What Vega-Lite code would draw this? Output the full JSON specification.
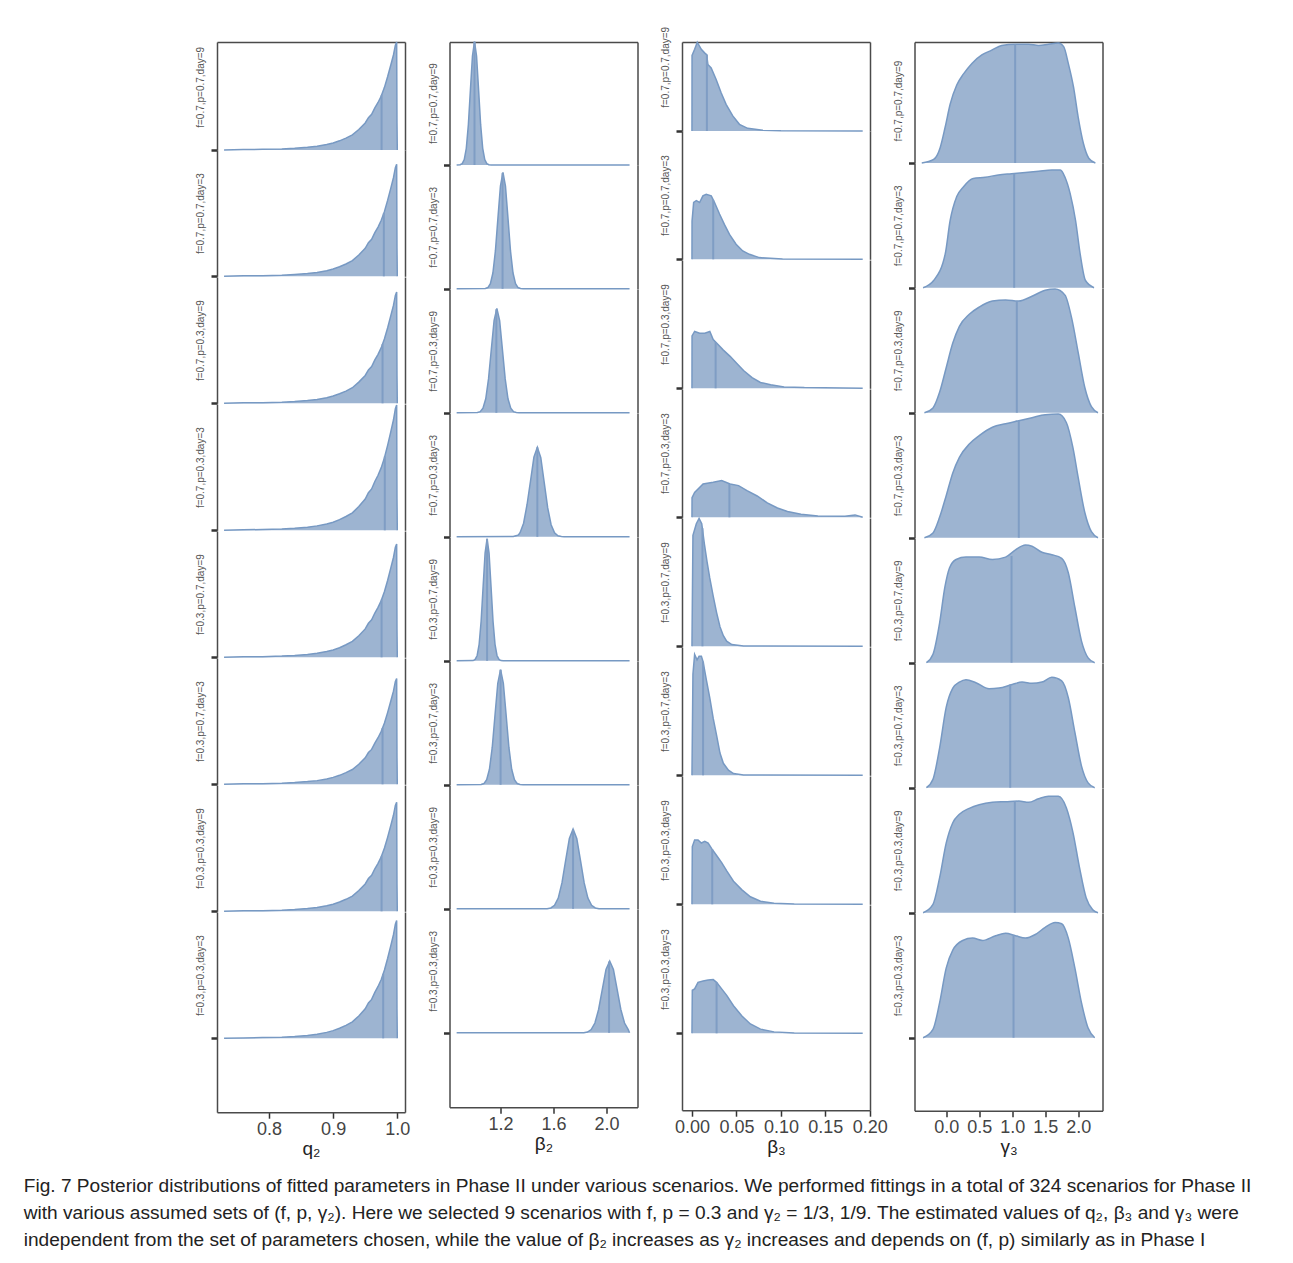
{
"$schema":"https://vega.github.io/schema/vega-lite/v6.json",
"padding":{"left":23,"top":26,"right":0,"bottom":0},
"background":"white",
"spacing":4.5,
"title":{"text":["Fig. 7 Posterior distributions of fitted parameters in Phase II under various scenarios. We performed fittings in a total of 324 scenarios for Phase II","with various assumed sets of (f, p, γ₂). Here we selected 9 scenarios with f, p = 0.3 and γ₂ = 1/3, 1/9. The estimated values of q₂, β₃ and γ₃ were","independent from the set of parameters chosen, while the value of β₂ increases as γ₂ increases and depends on (f, p) similarly as in Phase I"],"orient":"bottom","anchor":"start","frame":"bounds","font":"Liberation Sans","fontSize":19.1,"fontWeight":"normal","color":"#222","lineHeight":27,"offset":19,"dx":-172},
"config":{
"view":{"stroke":null},
"axis":{"grid":false,"domainColor":"#4a4a4a","domainWidth":1.5,"tickColor":"#333","labelFont":"Liberation Sans","titleFont":"Liberation Sans"},
"axisLeft":{"labels":false,"tickSize":6,"tickWidth":2.5,"titleFontSize":10,"titleFontWeight":"normal","titleColor":"#555","titlePadding":4},
"axisRight":{"labels":false,"ticks":true,"tickSize":18,"tickOpacity":0,"tickCount":2},
"axisTop":{"labels":false,"ticks":false},
"axisBottom":{"labelFontSize":18,"labelColor":"#444","labelOverlap":false,"labelFlush":false,"tickSize":6,"tickWidth":1.5,"labelPadding":2,"titleFontSize":19,"titleFontWeight":"normal","titleColor":"#222","titlePadding":1}
},
"hconcat":[
{"vconcat":[
{"width":188,"height":108,"encoding":{"x":{"field":"x","type":"quantitative","scale":{"domain":[0.719,1.012],"nice":false,"zero":false},"axis":{"orient":"top","title":null}},"y2":{"datum":0}},"layer":[{"data":{"name":"q2"},"transform":[{"filter":"datum.s==1"}],"mark":{"type":"area","color":"#9db4d1","opacity":1,"interpolate":"linear","line":{"color":"#7799c3","strokeWidth":1.5}},"encoding":{"y":{"field":"d","type":"quantitative","scale":{"domain":[0,1],"nice":false,"zero":false},"axis":{"orient":"left","values":[0],"title":"f=0.7,p=0.7,day=9","titleY":44.85}}}},{"data":{"name":"med"},"transform":[{"filter":"datum.p=='q2'&&datum.s==1"}],"mark":{"type":"rule","color":"#7f9dc4","strokeWidth":2},"encoding":{"y":{"field":"d","type":"quantitative","scale":{"domain":[0,1],"nice":false,"zero":false},"axis":{"orient":"right","title":null}}}}],"resolve":{"axis":{"y":"independent"}}},
{"width":188,"height":126.3,"encoding":{"x":{"field":"x","type":"quantitative","scale":{"domain":[0.719,1.012],"nice":false,"zero":false},"axis":null},"y2":{"datum":0}},"layer":[{"data":{"name":"q2"},"transform":[{"filter":"datum.s==2"}],"mark":{"type":"area","color":"#9db4d1","opacity":1,"interpolate":"linear","line":{"color":"#7799c3","strokeWidth":1.5}},"encoding":{"y":{"field":"d","type":"quantitative","scale":{"domain":[0,1.1694],"nice":false,"zero":false},"axis":{"orient":"left","values":[0],"title":"f=0.7,p=0.7,day=3"}}}},{"data":{"name":"med"},"transform":[{"filter":"datum.p=='q2'&&datum.s==2"}],"mark":{"type":"rule","color":"#7f9dc4","strokeWidth":2},"encoding":{"y":{"field":"d","type":"quantitative","scale":{"domain":[0,1.1694],"nice":false,"zero":false},"axis":{"orient":"right","title":null}}}}],"resolve":{"axis":{"y":"independent"}}},
{"width":188,"height":126.3,"encoding":{"x":{"field":"x","type":"quantitative","scale":{"domain":[0.719,1.012],"nice":false,"zero":false},"axis":null},"y2":{"datum":0}},"layer":[{"data":{"name":"q2"},"transform":[{"filter":"datum.s==3"}],"mark":{"type":"area","color":"#9db4d1","opacity":1,"interpolate":"linear","line":{"color":"#7799c3","strokeWidth":1.5}},"encoding":{"y":{"field":"d","type":"quantitative","scale":{"domain":[0,1.1694],"nice":false,"zero":false},"axis":{"orient":"left","values":[0],"title":"f=0.7,p=0.3,day=9"}}}},{"data":{"name":"med"},"transform":[{"filter":"datum.p=='q2'&&datum.s==3"}],"mark":{"type":"rule","color":"#7f9dc4","strokeWidth":2},"encoding":{"y":{"field":"d","type":"quantitative","scale":{"domain":[0,1.1694],"nice":false,"zero":false},"axis":{"orient":"right","title":null}}}}],"resolve":{"axis":{"y":"independent"}}},
{"width":188,"height":126.3,"encoding":{"x":{"field":"x","type":"quantitative","scale":{"domain":[0.719,1.012],"nice":false,"zero":false},"axis":null},"y2":{"datum":0}},"layer":[{"data":{"name":"q2"},"transform":[{"filter":"datum.s==4"}],"mark":{"type":"area","color":"#9db4d1","opacity":1,"interpolate":"linear","line":{"color":"#7799c3","strokeWidth":1.5}},"encoding":{"y":{"field":"d","type":"quantitative","scale":{"domain":[0,1.1694],"nice":false,"zero":false},"axis":{"orient":"left","values":[0],"title":"f=0.7,p=0.3,day=3"}}}},{"data":{"name":"med"},"transform":[{"filter":"datum.p=='q2'&&datum.s==4"}],"mark":{"type":"rule","color":"#7f9dc4","strokeWidth":2},"encoding":{"y":{"field":"d","type":"quantitative","scale":{"domain":[0,1.1694],"nice":false,"zero":false},"axis":{"orient":"right","title":null}}}}],"resolve":{"axis":{"y":"independent"}}},
{"width":188,"height":126.3,"encoding":{"x":{"field":"x","type":"quantitative","scale":{"domain":[0.719,1.012],"nice":false,"zero":false},"axis":null},"y2":{"datum":0}},"layer":[{"data":{"name":"q2"},"transform":[{"filter":"datum.s==5"}],"mark":{"type":"area","color":"#9db4d1","opacity":1,"interpolate":"linear","line":{"color":"#7799c3","strokeWidth":1.5}},"encoding":{"y":{"field":"d","type":"quantitative","scale":{"domain":[0,1.1694],"nice":false,"zero":false},"axis":{"orient":"left","values":[0],"title":"f=0.3,p=0.7,day=9"}}}},{"data":{"name":"med"},"transform":[{"filter":"datum.p=='q2'&&datum.s==5"}],"mark":{"type":"rule","color":"#7f9dc4","strokeWidth":2},"encoding":{"y":{"field":"d","type":"quantitative","scale":{"domain":[0,1.1694],"nice":false,"zero":false},"axis":{"orient":"right","title":null}}}}],"resolve":{"axis":{"y":"independent"}}},
{"width":188,"height":126.3,"encoding":{"x":{"field":"x","type":"quantitative","scale":{"domain":[0.719,1.012],"nice":false,"zero":false},"axis":null},"y2":{"datum":0}},"layer":[{"data":{"name":"q2"},"transform":[{"filter":"datum.s==6"}],"mark":{"type":"area","color":"#9db4d1","opacity":1,"interpolate":"linear","line":{"color":"#7799c3","strokeWidth":1.5}},"encoding":{"y":{"field":"d","type":"quantitative","scale":{"domain":[0,1.1694],"nice":false,"zero":false},"axis":{"orient":"left","values":[0],"title":"f=0.3,p=0.7,day=3"}}}},{"data":{"name":"med"},"transform":[{"filter":"datum.p=='q2'&&datum.s==6"}],"mark":{"type":"rule","color":"#7f9dc4","strokeWidth":2},"encoding":{"y":{"field":"d","type":"quantitative","scale":{"domain":[0,1.1694],"nice":false,"zero":false},"axis":{"orient":"right","title":null}}}}],"resolve":{"axis":{"y":"independent"}}},
{"width":188,"height":126.3,"encoding":{"x":{"field":"x","type":"quantitative","scale":{"domain":[0.719,1.012],"nice":false,"zero":false},"axis":null},"y2":{"datum":0}},"layer":[{"data":{"name":"q2"},"transform":[{"filter":"datum.s==7"}],"mark":{"type":"area","color":"#9db4d1","opacity":1,"interpolate":"linear","line":{"color":"#7799c3","strokeWidth":1.5}},"encoding":{"y":{"field":"d","type":"quantitative","scale":{"domain":[0,1.1694],"nice":false,"zero":false},"axis":{"orient":"left","values":[0],"title":"f=0.3,p=0.3,day=9"}}}},{"data":{"name":"med"},"transform":[{"filter":"datum.p=='q2'&&datum.s==7"}],"mark":{"type":"rule","color":"#7f9dc4","strokeWidth":2},"encoding":{"y":{"field":"d","type":"quantitative","scale":{"domain":[0,1.1694],"nice":false,"zero":false},"axis":{"orient":"right","title":null}}}}],"resolve":{"axis":{"y":"independent"}}},
{"width":188,"height":200.2,"encoding":{"x":{"field":"x","type":"quantitative","scale":{"domain":[0.719,1.012],"nice":false,"zero":false},"axis":{"orient":"bottom","values":[0.8,0.9,1.0],"format":".1f","title":"q₂"}},"y2":{"datum":0}},"layer":[{"data":{"name":"q2"},"transform":[{"filter":"datum.s==8"}],"mark":{"type":"area","color":"#9db4d1","opacity":1,"interpolate":"linear","line":{"color":"#7799c3","strokeWidth":1.5}},"encoding":{"y":{"field":"d","type":"quantitative","scale":{"domain":[-0.684,1.1694],"nice":false,"zero":false},"axis":{"orient":"left","values":[0],"title":"f=0.3,p=0.3,day=3","titleY":63.15}}}},{"data":{"name":"med"},"transform":[{"filter":"datum.p=='q2'&&datum.s==8"}],"mark":{"type":"rule","color":"#7f9dc4","strokeWidth":2},"encoding":{"y":{"field":"d","type":"quantitative","scale":{"domain":[-0.684,1.1694],"nice":false,"zero":false},"axis":{"orient":"right","title":null}}}}],"resolve":{"axis":{"y":"independent"}}}
],"spacing":0,"bounds":"flush"},
{"vconcat":[
{"width":188,"height":123,"encoding":{"x":{"field":"x","type":"quantitative","scale":{"domain":[0.814,2.235],"nice":false,"zero":false},"axis":{"orient":"top","title":null}},"y2":{"datum":0}},"layer":[{"data":{"name":"b2"},"transform":[{"filter":"datum.s==1"}],"mark":{"type":"area","color":"#9db4d1","opacity":1,"interpolate":"linear","line":{"color":"#7799c3","strokeWidth":1.5}},"encoding":{"y":{"field":"d","type":"quantitative","scale":{"domain":[0,0.9976],"nice":false,"zero":false},"axis":{"orient":"left","values":[0],"title":"f=0.7,p=0.7,day=9","titleY":61.1}}}},{"data":{"name":"med"},"transform":[{"filter":"datum.p=='b2'&&datum.s==1"}],"mark":{"type":"rule","color":"#7f9dc4","strokeWidth":2},"encoding":{"y":{"field":"d","type":"quantitative","scale":{"domain":[0,0.9976],"nice":false,"zero":false},"axis":{"orient":"right","title":null}}}}],"resolve":{"axis":{"y":"independent"}}},
{"width":188,"height":123.8,"encoding":{"x":{"field":"x","type":"quantitative","scale":{"domain":[0.814,2.235],"nice":false,"zero":false},"axis":null},"y2":{"datum":0}},"layer":[{"data":{"name":"b2"},"transform":[{"filter":"datum.s==2"}],"mark":{"type":"area","color":"#9db4d1","opacity":1,"interpolate":"linear","line":{"color":"#7799c3","strokeWidth":1.5}},"encoding":{"y":{"field":"d","type":"quantitative","scale":{"domain":[0,1.0041],"nice":false,"zero":false},"axis":{"orient":"left","values":[0],"title":"f=0.7,p=0.7,day=3"}}}},{"data":{"name":"med"},"transform":[{"filter":"datum.p=='b2'&&datum.s==2"}],"mark":{"type":"rule","color":"#7f9dc4","strokeWidth":2},"encoding":{"y":{"field":"d","type":"quantitative","scale":{"domain":[0,1.0041],"nice":false,"zero":false},"axis":{"orient":"right","title":null}}}}],"resolve":{"axis":{"y":"independent"}}},
{"width":188,"height":123.8,"encoding":{"x":{"field":"x","type":"quantitative","scale":{"domain":[0.814,2.235],"nice":false,"zero":false},"axis":null},"y2":{"datum":0}},"layer":[{"data":{"name":"b2"},"transform":[{"filter":"datum.s==3"}],"mark":{"type":"area","color":"#9db4d1","opacity":1,"interpolate":"linear","line":{"color":"#7799c3","strokeWidth":1.5}},"encoding":{"y":{"field":"d","type":"quantitative","scale":{"domain":[0,1.0041],"nice":false,"zero":false},"axis":{"orient":"left","values":[0],"title":"f=0.7,p=0.3,day=9"}}}},{"data":{"name":"med"},"transform":[{"filter":"datum.p=='b2'&&datum.s==3"}],"mark":{"type":"rule","color":"#7f9dc4","strokeWidth":2},"encoding":{"y":{"field":"d","type":"quantitative","scale":{"domain":[0,1.0041],"nice":false,"zero":false},"axis":{"orient":"right","title":null}}}}],"resolve":{"axis":{"y":"independent"}}},
{"width":188,"height":123.8,"encoding":{"x":{"field":"x","type":"quantitative","scale":{"domain":[0.814,2.235],"nice":false,"zero":false},"axis":null},"y2":{"datum":0}},"layer":[{"data":{"name":"b2"},"transform":[{"filter":"datum.s==4"}],"mark":{"type":"area","color":"#9db4d1","opacity":1,"interpolate":"linear","line":{"color":"#7799c3","strokeWidth":1.5}},"encoding":{"y":{"field":"d","type":"quantitative","scale":{"domain":[0,1.0041],"nice":false,"zero":false},"axis":{"orient":"left","values":[0],"title":"f=0.7,p=0.3,day=3"}}}},{"data":{"name":"med"},"transform":[{"filter":"datum.p=='b2'&&datum.s==4"}],"mark":{"type":"rule","color":"#7f9dc4","strokeWidth":2},"encoding":{"y":{"field":"d","type":"quantitative","scale":{"domain":[0,1.0041],"nice":false,"zero":false},"axis":{"orient":"right","title":null}}}}],"resolve":{"axis":{"y":"independent"}}},
{"width":188,"height":123.8,"encoding":{"x":{"field":"x","type":"quantitative","scale":{"domain":[0.814,2.235],"nice":false,"zero":false},"axis":null},"y2":{"datum":0}},"layer":[{"data":{"name":"b2"},"transform":[{"filter":"datum.s==5"}],"mark":{"type":"area","color":"#9db4d1","opacity":1,"interpolate":"linear","line":{"color":"#7799c3","strokeWidth":1.5}},"encoding":{"y":{"field":"d","type":"quantitative","scale":{"domain":[0,1.0041],"nice":false,"zero":false},"axis":{"orient":"left","values":[0],"title":"f=0.3,p=0.7,day=9"}}}},{"data":{"name":"med"},"transform":[{"filter":"datum.p=='b2'&&datum.s==5"}],"mark":{"type":"rule","color":"#7f9dc4","strokeWidth":2},"encoding":{"y":{"field":"d","type":"quantitative","scale":{"domain":[0,1.0041],"nice":false,"zero":false},"axis":{"orient":"right","title":null}}}}],"resolve":{"axis":{"y":"independent"}}},
{"width":188,"height":123.8,"encoding":{"x":{"field":"x","type":"quantitative","scale":{"domain":[0.814,2.235],"nice":false,"zero":false},"axis":null},"y2":{"datum":0}},"layer":[{"data":{"name":"b2"},"transform":[{"filter":"datum.s==6"}],"mark":{"type":"area","color":"#9db4d1","opacity":1,"interpolate":"linear","line":{"color":"#7799c3","strokeWidth":1.5}},"encoding":{"y":{"field":"d","type":"quantitative","scale":{"domain":[0,1.0041],"nice":false,"zero":false},"axis":{"orient":"left","values":[0],"title":"f=0.3,p=0.7,day=3"}}}},{"data":{"name":"med"},"transform":[{"filter":"datum.p=='b2'&&datum.s==6"}],"mark":{"type":"rule","color":"#7f9dc4","strokeWidth":2},"encoding":{"y":{"field":"d","type":"quantitative","scale":{"domain":[0,1.0041],"nice":false,"zero":false},"axis":{"orient":"right","title":null}}}}],"resolve":{"axis":{"y":"independent"}}},
{"width":188,"height":123.8,"encoding":{"x":{"field":"x","type":"quantitative","scale":{"domain":[0.814,2.235],"nice":false,"zero":false},"axis":null},"y2":{"datum":0}},"layer":[{"data":{"name":"b2"},"transform":[{"filter":"datum.s==7"}],"mark":{"type":"area","color":"#9db4d1","opacity":1,"interpolate":"linear","line":{"color":"#7799c3","strokeWidth":1.5}},"encoding":{"y":{"field":"d","type":"quantitative","scale":{"domain":[0,1.0041],"nice":false,"zero":false},"axis":{"orient":"left","values":[0],"title":"f=0.3,p=0.3,day=9"}}}},{"data":{"name":"med"},"transform":[{"filter":"datum.p=='b2'&&datum.s==7"}],"mark":{"type":"rule","color":"#7f9dc4","strokeWidth":2},"encoding":{"y":{"field":"d","type":"quantitative","scale":{"domain":[0,1.0041],"nice":false,"zero":false},"axis":{"orient":"right","title":null}}}}],"resolve":{"axis":{"y":"independent"}}},
{"width":188,"height":198.2,"encoding":{"x":{"field":"x","type":"quantitative","scale":{"domain":[0.814,2.235],"nice":false,"zero":false},"axis":{"orient":"bottom","values":[1.2,1.6,2.0],"format":".1f","title":"β₂"}},"y2":{"datum":0}},"layer":[{"data":{"name":"b2"},"transform":[{"filter":"datum.s==8"}],"mark":{"type":"area","color":"#9db4d1","opacity":1,"interpolate":"linear","line":{"color":"#7799c3","strokeWidth":1.5}},"encoding":{"y":{"field":"d","type":"quantitative","scale":{"domain":[-0.6034,1.0041],"nice":false,"zero":false},"axis":{"orient":"left","values":[0],"title":"f=0.3,p=0.3,day=3","titleY":61.9}}}},{"data":{"name":"med"},"transform":[{"filter":"datum.p=='b2'&&datum.s==8"}],"mark":{"type":"rule","color":"#7f9dc4","strokeWidth":2},"encoding":{"y":{"field":"d","type":"quantitative","scale":{"domain":[-0.6034,1.0041],"nice":false,"zero":false},"axis":{"orient":"right","title":null}}}}],"resolve":{"axis":{"y":"independent"}}}
],"spacing":0,"bounds":"flush"},
{"vconcat":[
{"width":188,"height":89,"encoding":{"x":{"field":"x","type":"quantitative","scale":{"domain":[-0.0112,0.2002],"nice":false,"zero":false},"axis":{"orient":"top","title":null}},"y2":{"datum":0}},"layer":[{"data":{"name":"b3"},"transform":[{"filter":"datum.s==1"}],"mark":{"type":"area","color":"#9db4d1","opacity":1,"interpolate":"linear","line":{"color":"#7799c3","strokeWidth":1.5}},"encoding":{"y":{"field":"d","type":"quantitative","scale":{"domain":[0,1.0023],"nice":false,"zero":false},"axis":{"orient":"left","values":[0],"title":"f=0.7,p=0.7,day=9","titleY":24.85}}}},{"data":{"name":"med"},"transform":[{"filter":"datum.p=='b3'&&datum.s==1"}],"mark":{"type":"rule","color":"#7f9dc4","strokeWidth":2},"encoding":{"y":{"field":"d","type":"quantitative","scale":{"domain":[0,1.0023],"nice":false,"zero":false},"axis":{"orient":"right","title":null}}}}],"resolve":{"axis":{"y":"independent"}}},
{"width":188,"height":128.3,"encoding":{"x":{"field":"x","type":"quantitative","scale":{"domain":[-0.0112,0.2002],"nice":false,"zero":false},"axis":null},"y2":{"datum":0}},"layer":[{"data":{"name":"b3"},"transform":[{"filter":"datum.s==2"}],"mark":{"type":"area","color":"#9db4d1","opacity":1,"interpolate":"linear","line":{"color":"#7799c3","strokeWidth":1.5}},"encoding":{"y":{"field":"d","type":"quantitative","scale":{"domain":[0,1.4448],"nice":false,"zero":false},"axis":{"orient":"left","values":[0],"title":"f=0.7,p=0.7,day=3"}}}},{"data":{"name":"med"},"transform":[{"filter":"datum.p=='b3'&&datum.s==2"}],"mark":{"type":"rule","color":"#7f9dc4","strokeWidth":2},"encoding":{"y":{"field":"d","type":"quantitative","scale":{"domain":[0,1.4448],"nice":false,"zero":false},"axis":{"orient":"right","title":null}}}}],"resolve":{"axis":{"y":"independent"}}},
{"width":188,"height":128.3,"encoding":{"x":{"field":"x","type":"quantitative","scale":{"domain":[-0.0112,0.2002],"nice":false,"zero":false},"axis":null},"y2":{"datum":0}},"layer":[{"data":{"name":"b3"},"transform":[{"filter":"datum.s==3"}],"mark":{"type":"area","color":"#9db4d1","opacity":1,"interpolate":"linear","line":{"color":"#7799c3","strokeWidth":1.5}},"encoding":{"y":{"field":"d","type":"quantitative","scale":{"domain":[0,1.4448],"nice":false,"zero":false},"axis":{"orient":"left","values":[0],"title":"f=0.7,p=0.3,day=9"}}}},{"data":{"name":"med"},"transform":[{"filter":"datum.p=='b3'&&datum.s==3"}],"mark":{"type":"rule","color":"#7f9dc4","strokeWidth":2},"encoding":{"y":{"field":"d","type":"quantitative","scale":{"domain":[0,1.4448],"nice":false,"zero":false},"axis":{"orient":"right","title":null}}}}],"resolve":{"axis":{"y":"independent"}}},
{"width":188,"height":128.3,"encoding":{"x":{"field":"x","type":"quantitative","scale":{"domain":[-0.0112,0.2002],"nice":false,"zero":false},"axis":null},"y2":{"datum":0}},"layer":[{"data":{"name":"b3"},"transform":[{"filter":"datum.s==4"}],"mark":{"type":"area","color":"#9db4d1","opacity":1,"interpolate":"linear","line":{"color":"#7799c3","strokeWidth":1.5}},"encoding":{"y":{"field":"d","type":"quantitative","scale":{"domain":[0,1.4448],"nice":false,"zero":false},"axis":{"orient":"left","values":[0],"title":"f=0.7,p=0.3,day=3"}}}},{"data":{"name":"med"},"transform":[{"filter":"datum.p=='b3'&&datum.s==4"}],"mark":{"type":"rule","color":"#7f9dc4","strokeWidth":2},"encoding":{"y":{"field":"d","type":"quantitative","scale":{"domain":[0,1.4448],"nice":false,"zero":false},"axis":{"orient":"right","title":null}}}}],"resolve":{"axis":{"y":"independent"}}},
{"width":188,"height":128.3,"encoding":{"x":{"field":"x","type":"quantitative","scale":{"domain":[-0.0112,0.2002],"nice":false,"zero":false},"axis":null},"y2":{"datum":0}},"layer":[{"data":{"name":"b3"},"transform":[{"filter":"datum.s==5"}],"mark":{"type":"area","color":"#9db4d1","opacity":1,"interpolate":"linear","line":{"color":"#7799c3","strokeWidth":1.5}},"encoding":{"y":{"field":"d","type":"quantitative","scale":{"domain":[0,1.4448],"nice":false,"zero":false},"axis":{"orient":"left","values":[0],"title":"f=0.3,p=0.7,day=9"}}}},{"data":{"name":"med"},"transform":[{"filter":"datum.p=='b3'&&datum.s==5"}],"mark":{"type":"rule","color":"#7f9dc4","strokeWidth":2},"encoding":{"y":{"field":"d","type":"quantitative","scale":{"domain":[0,1.4448],"nice":false,"zero":false},"axis":{"orient":"right","title":null}}}}],"resolve":{"axis":{"y":"independent"}}},
{"width":188,"height":128.3,"encoding":{"x":{"field":"x","type":"quantitative","scale":{"domain":[-0.0112,0.2002],"nice":false,"zero":false},"axis":null},"y2":{"datum":0}},"layer":[{"data":{"name":"b3"},"transform":[{"filter":"datum.s==6"}],"mark":{"type":"area","color":"#9db4d1","opacity":1,"interpolate":"linear","line":{"color":"#7799c3","strokeWidth":1.5}},"encoding":{"y":{"field":"d","type":"quantitative","scale":{"domain":[0,1.4448],"nice":false,"zero":false},"axis":{"orient":"left","values":[0],"title":"f=0.3,p=0.7,day=3"}}}},{"data":{"name":"med"},"transform":[{"filter":"datum.p=='b3'&&datum.s==6"}],"mark":{"type":"rule","color":"#7f9dc4","strokeWidth":2},"encoding":{"y":{"field":"d","type":"quantitative","scale":{"domain":[0,1.4448],"nice":false,"zero":false},"axis":{"orient":"right","title":null}}}}],"resolve":{"axis":{"y":"independent"}}},
{"width":188,"height":128.3,"encoding":{"x":{"field":"x","type":"quantitative","scale":{"domain":[-0.0112,0.2002],"nice":false,"zero":false},"axis":null},"y2":{"datum":0}},"layer":[{"data":{"name":"b3"},"transform":[{"filter":"datum.s==7"}],"mark":{"type":"area","color":"#9db4d1","opacity":1,"interpolate":"linear","line":{"color":"#7799c3","strokeWidth":1.5}},"encoding":{"y":{"field":"d","type":"quantitative","scale":{"domain":[0,1.4448],"nice":false,"zero":false},"axis":{"orient":"left","values":[0],"title":"f=0.3,p=0.3,day=9"}}}},{"data":{"name":"med"},"transform":[{"filter":"datum.p=='b3'&&datum.s==7"}],"mark":{"type":"rule","color":"#7f9dc4","strokeWidth":2},"encoding":{"y":{"field":"d","type":"quantitative","scale":{"domain":[0,1.4448],"nice":false,"zero":false},"axis":{"orient":"right","title":null}}}}],"resolve":{"axis":{"y":"independent"}}},
{"width":188,"height":205.2,"encoding":{"x":{"field":"x","type":"quantitative","scale":{"domain":[-0.0112,0.2002],"nice":false,"zero":false},"axis":{"orient":"bottom","values":[0,0.05,0.1,0.15,0.2],"format":".2f","title":"β₃"}},"y2":{"datum":0}},"layer":[{"data":{"name":"b3"},"transform":[{"filter":"datum.s==8"}],"mark":{"type":"area","color":"#9db4d1","opacity":1,"interpolate":"linear","line":{"color":"#7799c3","strokeWidth":1.5}},"encoding":{"y":{"field":"d","type":"quantitative","scale":{"domain":[-0.866,1.4448],"nice":false,"zero":false},"axis":{"orient":"left","values":[0],"title":"f=0.3,p=0.3,day=3","titleY":64.15}}}},{"data":{"name":"med"},"transform":[{"filter":"datum.p=='b3'&&datum.s==8"}],"mark":{"type":"rule","color":"#7f9dc4","strokeWidth":2},"encoding":{"y":{"field":"d","type":"quantitative","scale":{"domain":[-0.866,1.4448],"nice":false,"zero":false},"axis":{"orient":"right","title":null}}}}],"resolve":{"axis":{"y":"independent"}}}
],"spacing":0,"bounds":"flush"},
{"vconcat":[
{"width":188,"height":121,"encoding":{"x":{"field":"x","type":"quantitative","scale":{"domain":[-0.48,2.368],"nice":false,"zero":false},"axis":{"orient":"top","title":null}},"y2":{"datum":0}},"layer":[{"data":{"name":"g3"},"transform":[{"filter":"datum.s==1"}],"mark":{"type":"area","color":"#9db4d1","opacity":1,"interpolate":"monotone","line":{"color":"#7799c3","strokeWidth":1.5}},"encoding":{"y":{"field":"d","type":"quantitative","scale":{"domain":[0,1.0083],"nice":false,"zero":false},"axis":{"orient":"left","values":[0],"title":"f=0.7,p=0.7,day=9","titleY":58.65}}}},{"data":{"name":"med"},"transform":[{"filter":"datum.p=='g3'&&datum.s==1"}],"mark":{"type":"rule","color":"#7f9dc4","strokeWidth":2},"encoding":{"y":{"field":"d","type":"quantitative","scale":{"domain":[0,1.0083],"nice":false,"zero":false},"axis":{"orient":"right","title":null}}}}],"resolve":{"axis":{"y":"independent"}}},
{"width":188,"height":124.7,"encoding":{"x":{"field":"x","type":"quantitative","scale":{"domain":[-0.48,2.368],"nice":false,"zero":false},"axis":null},"y2":{"datum":0}},"layer":[{"data":{"name":"g3"},"transform":[{"filter":"datum.s==2"}],"mark":{"type":"area","color":"#9db4d1","opacity":1,"interpolate":"monotone","line":{"color":"#7799c3","strokeWidth":1.5}},"encoding":{"y":{"field":"d","type":"quantitative","scale":{"domain":[0,1.0392],"nice":false,"zero":false},"axis":{"orient":"left","values":[0],"title":"f=0.7,p=0.7,day=3"}}}},{"data":{"name":"med"},"transform":[{"filter":"datum.p=='g3'&&datum.s==2"}],"mark":{"type":"rule","color":"#7f9dc4","strokeWidth":2},"encoding":{"y":{"field":"d","type":"quantitative","scale":{"domain":[0,1.0392],"nice":false,"zero":false},"axis":{"orient":"right","title":null}}}}],"resolve":{"axis":{"y":"independent"}}},
{"width":188,"height":124.7,"encoding":{"x":{"field":"x","type":"quantitative","scale":{"domain":[-0.48,2.368],"nice":false,"zero":false},"axis":null},"y2":{"datum":0}},"layer":[{"data":{"name":"g3"},"transform":[{"filter":"datum.s==3"}],"mark":{"type":"area","color":"#9db4d1","opacity":1,"interpolate":"monotone","line":{"color":"#7799c3","strokeWidth":1.5}},"encoding":{"y":{"field":"d","type":"quantitative","scale":{"domain":[0,1.0392],"nice":false,"zero":false},"axis":{"orient":"left","values":[0],"title":"f=0.7,p=0.3,day=9"}}}},{"data":{"name":"med"},"transform":[{"filter":"datum.p=='g3'&&datum.s==3"}],"mark":{"type":"rule","color":"#7f9dc4","strokeWidth":2},"encoding":{"y":{"field":"d","type":"quantitative","scale":{"domain":[0,1.0392],"nice":false,"zero":false},"axis":{"orient":"right","title":null}}}}],"resolve":{"axis":{"y":"independent"}}},
{"width":188,"height":124.7,"encoding":{"x":{"field":"x","type":"quantitative","scale":{"domain":[-0.48,2.368],"nice":false,"zero":false},"axis":null},"y2":{"datum":0}},"layer":[{"data":{"name":"g3"},"transform":[{"filter":"datum.s==4"}],"mark":{"type":"area","color":"#9db4d1","opacity":1,"interpolate":"monotone","line":{"color":"#7799c3","strokeWidth":1.5}},"encoding":{"y":{"field":"d","type":"quantitative","scale":{"domain":[0,1.0392],"nice":false,"zero":false},"axis":{"orient":"left","values":[0],"title":"f=0.7,p=0.3,day=3"}}}},{"data":{"name":"med"},"transform":[{"filter":"datum.p=='g3'&&datum.s==4"}],"mark":{"type":"rule","color":"#7f9dc4","strokeWidth":2},"encoding":{"y":{"field":"d","type":"quantitative","scale":{"domain":[0,1.0392],"nice":false,"zero":false},"axis":{"orient":"right","title":null}}}}],"resolve":{"axis":{"y":"independent"}}},
{"width":188,"height":124.7,"encoding":{"x":{"field":"x","type":"quantitative","scale":{"domain":[-0.48,2.368],"nice":false,"zero":false},"axis":null},"y2":{"datum":0}},"layer":[{"data":{"name":"g3"},"transform":[{"filter":"datum.s==5"}],"mark":{"type":"area","color":"#9db4d1","opacity":1,"interpolate":"monotone","line":{"color":"#7799c3","strokeWidth":1.5}},"encoding":{"y":{"field":"d","type":"quantitative","scale":{"domain":[0,1.0392],"nice":false,"zero":false},"axis":{"orient":"left","values":[0],"title":"f=0.3,p=0.7,day=9"}}}},{"data":{"name":"med"},"transform":[{"filter":"datum.p=='g3'&&datum.s==5"}],"mark":{"type":"rule","color":"#7f9dc4","strokeWidth":2},"encoding":{"y":{"field":"d","type":"quantitative","scale":{"domain":[0,1.0392],"nice":false,"zero":false},"axis":{"orient":"right","title":null}}}}],"resolve":{"axis":{"y":"independent"}}},
{"width":188,"height":124.7,"encoding":{"x":{"field":"x","type":"quantitative","scale":{"domain":[-0.48,2.368],"nice":false,"zero":false},"axis":null},"y2":{"datum":0}},"layer":[{"data":{"name":"g3"},"transform":[{"filter":"datum.s==6"}],"mark":{"type":"area","color":"#9db4d1","opacity":1,"interpolate":"monotone","line":{"color":"#7799c3","strokeWidth":1.5}},"encoding":{"y":{"field":"d","type":"quantitative","scale":{"domain":[0,1.0392],"nice":false,"zero":false},"axis":{"orient":"left","values":[0],"title":"f=0.3,p=0.7,day=3"}}}},{"data":{"name":"med"},"transform":[{"filter":"datum.p=='g3'&&datum.s==6"}],"mark":{"type":"rule","color":"#7f9dc4","strokeWidth":2},"encoding":{"y":{"field":"d","type":"quantitative","scale":{"domain":[0,1.0392],"nice":false,"zero":false},"axis":{"orient":"right","title":null}}}}],"resolve":{"axis":{"y":"independent"}}},
{"width":188,"height":124.7,"encoding":{"x":{"field":"x","type":"quantitative","scale":{"domain":[-0.48,2.368],"nice":false,"zero":false},"axis":null},"y2":{"datum":0}},"layer":[{"data":{"name":"g3"},"transform":[{"filter":"datum.s==7"}],"mark":{"type":"area","color":"#9db4d1","opacity":1,"interpolate":"monotone","line":{"color":"#7799c3","strokeWidth":1.5}},"encoding":{"y":{"field":"d","type":"quantitative","scale":{"domain":[0,1.0392],"nice":false,"zero":false},"axis":{"orient":"left","values":[0],"title":"f=0.3,p=0.3,day=9"}}}},{"data":{"name":"med"},"transform":[{"filter":"datum.p=='g3'&&datum.s==7"}],"mark":{"type":"rule","color":"#7f9dc4","strokeWidth":2},"encoding":{"y":{"field":"d","type":"quantitative","scale":{"domain":[0,1.0392],"nice":false,"zero":false},"axis":{"orient":"right","title":null}}}}],"resolve":{"axis":{"y":"independent"}}},
{"width":188,"height":197.8,"encoding":{"x":{"field":"x","type":"quantitative","scale":{"domain":[-0.48,2.368],"nice":false,"zero":false},"axis":{"orient":"bottom","values":[0,0.5,1,1.5,2],"format":".1f","title":"γ₃"}},"y2":{"datum":0}},"layer":[{"data":{"name":"g3"},"transform":[{"filter":"datum.s==8"}],"mark":{"type":"area","color":"#9db4d1","opacity":1,"interpolate":"monotone","line":{"color":"#7799c3","strokeWidth":1.5}},"encoding":{"y":{"field":"d","type":"quantitative","scale":{"domain":[-0.6092,1.0392],"nice":false,"zero":false},"axis":{"orient":"left","values":[0],"title":"f=0.3,p=0.3,day=3","titleY":62.35}}}},{"data":{"name":"med"},"transform":[{"filter":"datum.p=='g3'&&datum.s==8"}],"mark":{"type":"rule","color":"#7f9dc4","strokeWidth":2},"encoding":{"y":{"field":"d","type":"quantitative","scale":{"domain":[-0.6092,1.0392],"nice":false,"zero":false},"axis":{"orient":"right","title":null}}}}],"resolve":{"axis":{"y":"independent"}}}
],"spacing":0,"bounds":"flush"}
],
"datasets":{
"med":[
{"p":"q2","s":1,"x":0.9755,"d":0.51},{"p":"q2","s":2,"x":0.979,"d":0.585},{"p":"q2","s":3,"x":0.977,"d":0.548},{"p":"q2","s":4,"x":0.9805,"d":0.684},{"p":"q2","s":5,"x":0.9755,"d":0.533},{"p":"q2","s":6,"x":0.977,"d":0.521},{"p":"q2","s":7,"x":0.9755,"d":0.513},{"p":"q2","s":8,"x":0.978,"d":0.597},
{"p":"b2","s":1,"x":1.003,"d":1.0},{"p":"b2","s":2,"x":1.215,"d":0.94},{"p":"b2","s":3,"x":1.168,"d":0.84},{"p":"b2","s":4,"x":1.478,"d":0.726},{"p":"b2","s":5,"x":1.098,"d":0.99},{"p":"b2","s":6,"x":1.2,"d":0.933},{"p":"b2","s":7,"x":1.748,"d":0.646},{"p":"b2","s":8,"x":2.02,"d":0.578},
{"p":"b3","s":1,"x":0.0168,"d":0.86},{"p":"b3","s":2,"x":0.0239,"d":0.67},{"p":"b3","s":3,"x":0.0266,"d":0.52},{"p":"b3","s":4,"x":0.0421,"d":0.376},{"p":"b3","s":5,"x":0.0118,"d":1.33},{"p":"b3","s":6,"x":0.0125,"d":1.28},{"p":"b3","s":7,"x":0.0228,"d":0.62},{"p":"b3","s":8,"x":0.0277,"d":0.574},
{"p":"g3","s":1,"x":1.045,"d":0.99},{"p":"g3","s":2,"x":1.03,"d":0.95},{"p":"g3","s":3,"x":1.07,"d":0.93},{"p":"g3","s":4,"x":1.1,"d":0.975},{"p":"g3","s":5,"x":0.99,"d":0.89},{"p":"g3","s":6,"x":0.97,"d":0.86},{"p":"g3","s":7,"x":1.04,"d":0.93},{"p":"g3","s":8,"x":1.02,"d":0.85}
],
"q2":[
{"s":1,"x":0.73,"d":0},{"s":1,"x":0.76,"d":0.004},{"s":1,"x":0.79,"d":0.006},{"s":1,"x":0.82,"d":0.01},{"s":1,"x":0.84,"d":0.016},{"s":1,"x":0.86,"d":0.025},{"s":1,"x":0.875,"d":0.035},{"s":1,"x":0.89,"d":0.05},{"s":1,"x":0.9,"d":0.065},{"s":1,"x":0.91,"d":0.085},{"s":1,"x":0.92,"d":0.11},{"s":1,"x":0.93,"d":0.14},{"s":1,"x":0.94,"d":0.19},{"s":1,"x":0.95,"d":0.25},{"s":1,"x":0.955,"d":0.3},{"s":1,"x":0.96,"d":0.33},{"s":1,"x":0.965,"d":0.39},{"s":1,"x":0.97,"d":0.44},{"s":1,"x":0.975,"d":0.5},{"s":1,"x":0.98,"d":0.58},{"s":1,"x":0.985,"d":0.68},{"s":1,"x":0.99,"d":0.79},{"s":1,"x":0.994,"d":0.88},{"s":1,"x":0.997,"d":0.97},{"s":1,"x":0.999,"d":1.0},{"s":1,"x":0.9995,"d":0.25},{"s":1,"x":1.0,"d":0},
{"s":2,"x":0.73,"d":0},{"s":2,"x":0.76,"d":0.004},{"s":2,"x":0.79,"d":0.006},{"s":2,"x":0.82,"d":0.01},{"s":2,"x":0.84,"d":0.017},{"s":2,"x":0.86,"d":0.026},{"s":2,"x":0.875,"d":0.036},{"s":2,"x":0.89,"d":0.052},{"s":2,"x":0.9,"d":0.067},{"s":2,"x":0.91,"d":0.088},{"s":2,"x":0.92,"d":0.114},{"s":2,"x":0.93,"d":0.145},{"s":2,"x":0.94,"d":0.197},{"s":2,"x":0.95,"d":0.259},{"s":2,"x":0.955,"d":0.311},{"s":2,"x":0.96,"d":0.342},{"s":2,"x":0.965,"d":0.404},{"s":2,"x":0.97,"d":0.456},{"s":2,"x":0.975,"d":0.519},{"s":2,"x":0.98,"d":0.601},{"s":2,"x":0.985,"d":0.705},{"s":2,"x":0.99,"d":0.819},{"s":2,"x":0.994,"d":0.913},{"s":2,"x":0.997,"d":1.006},{"s":2,"x":0.999,"d":1.037},{"s":2,"x":0.9995,"d":0.26},{"s":2,"x":1.0,"d":0},
{"s":3,"x":0.73,"d":0},{"s":3,"x":0.76,"d":0.004},{"s":3,"x":0.79,"d":0.006},{"s":3,"x":0.82,"d":0.01},{"s":3,"x":0.84,"d":0.016},{"s":3,"x":0.86,"d":0.026},{"s":3,"x":0.875,"d":0.036},{"s":3,"x":0.89,"d":0.052},{"s":3,"x":0.9,"d":0.067},{"s":3,"x":0.91,"d":0.088},{"s":3,"x":0.92,"d":0.113},{"s":3,"x":0.93,"d":0.144},{"s":3,"x":0.94,"d":0.196},{"s":3,"x":0.95,"d":0.258},{"s":3,"x":0.955,"d":0.309},{"s":3,"x":0.96,"d":0.34},{"s":3,"x":0.965,"d":0.402},{"s":3,"x":0.97,"d":0.453},{"s":3,"x":0.975,"d":0.515},{"s":3,"x":0.98,"d":0.597},{"s":3,"x":0.985,"d":0.7},{"s":3,"x":0.99,"d":0.814},{"s":3,"x":0.994,"d":0.906},{"s":3,"x":0.997,"d":0.999},{"s":3,"x":0.999,"d":1.03},{"s":3,"x":0.9995,"d":0.26},{"s":3,"x":1.0,"d":0},
{"s":4,"x":0.73,"d":0},{"s":4,"x":0.76,"d":0.005},{"s":4,"x":0.79,"d":0.007},{"s":4,"x":0.82,"d":0.012},{"s":4,"x":0.84,"d":0.019},{"s":4,"x":0.86,"d":0.029},{"s":4,"x":0.875,"d":0.041},{"s":4,"x":0.89,"d":0.058},{"s":4,"x":0.9,"d":0.075},{"s":4,"x":0.91,"d":0.099},{"s":4,"x":0.92,"d":0.128},{"s":4,"x":0.93,"d":0.162},{"s":4,"x":0.94,"d":0.22},{"s":4,"x":0.95,"d":0.29},{"s":4,"x":0.955,"d":0.348},{"s":4,"x":0.96,"d":0.383},{"s":4,"x":0.965,"d":0.452},{"s":4,"x":0.97,"d":0.51},{"s":4,"x":0.975,"d":0.58},{"s":4,"x":0.98,"d":0.673},{"s":4,"x":0.985,"d":0.789},{"s":4,"x":0.99,"d":0.916},{"s":4,"x":0.994,"d":1.021},{"s":4,"x":0.997,"d":1.125},{"s":4,"x":0.999,"d":1.16},{"s":4,"x":0.9995,"d":0.29},{"s":4,"x":1.0,"d":0},
{"s":5,"x":0.73,"d":0},{"s":5,"x":0.76,"d":0.004},{"s":5,"x":0.79,"d":0.006},{"s":5,"x":0.82,"d":0.011},{"s":5,"x":0.84,"d":0.017},{"s":5,"x":0.86,"d":0.026},{"s":5,"x":0.875,"d":0.037},{"s":5,"x":0.89,"d":0.053},{"s":5,"x":0.9,"d":0.068},{"s":5,"x":0.91,"d":0.089},{"s":5,"x":0.92,"d":0.116},{"s":5,"x":0.93,"d":0.147},{"s":5,"x":0.94,"d":0.2},{"s":5,"x":0.95,"d":0.263},{"s":5,"x":0.955,"d":0.315},{"s":5,"x":0.96,"d":0.347},{"s":5,"x":0.965,"d":0.41},{"s":5,"x":0.97,"d":0.462},{"s":5,"x":0.975,"d":0.525},{"s":5,"x":0.98,"d":0.609},{"s":5,"x":0.985,"d":0.714},{"s":5,"x":0.99,"d":0.83},{"s":5,"x":0.994,"d":0.924},{"s":5,"x":0.997,"d":1.019},{"s":5,"x":0.999,"d":1.05},{"s":5,"x":0.9995,"d":0.26},{"s":5,"x":1.0,"d":0},
{"s":6,"x":0.73,"d":0},{"s":6,"x":0.76,"d":0.004},{"s":6,"x":0.79,"d":0.006},{"s":6,"x":0.82,"d":0.01},{"s":6,"x":0.84,"d":0.016},{"s":6,"x":0.86,"d":0.025},{"s":6,"x":0.875,"d":0.034},{"s":6,"x":0.89,"d":0.049},{"s":6,"x":0.9,"d":0.064},{"s":6,"x":0.91,"d":0.083},{"s":6,"x":0.92,"d":0.108},{"s":6,"x":0.93,"d":0.137},{"s":6,"x":0.94,"d":0.186},{"s":6,"x":0.95,"d":0.245},{"s":6,"x":0.955,"d":0.294},{"s":6,"x":0.96,"d":0.323},{"s":6,"x":0.965,"d":0.382},{"s":6,"x":0.97,"d":0.431},{"s":6,"x":0.975,"d":0.49},{"s":6,"x":0.98,"d":0.568},{"s":6,"x":0.985,"d":0.666},{"s":6,"x":0.99,"d":0.774},{"s":6,"x":0.994,"d":0.862},{"s":6,"x":0.997,"d":0.951},{"s":6,"x":0.999,"d":0.98},{"s":6,"x":0.9995,"d":0.25},{"s":6,"x":1.0,"d":0},
{"s":7,"x":0.73,"d":0},{"s":7,"x":0.76,"d":0.004},{"s":7,"x":0.79,"d":0.006},{"s":7,"x":0.82,"d":0.01},{"s":7,"x":0.84,"d":0.016},{"s":7,"x":0.86,"d":0.025},{"s":7,"x":0.875,"d":0.035},{"s":7,"x":0.89,"d":0.051},{"s":7,"x":0.9,"d":0.066},{"s":7,"x":0.91,"d":0.086},{"s":7,"x":0.92,"d":0.111},{"s":7,"x":0.93,"d":0.141},{"s":7,"x":0.94,"d":0.192},{"s":7,"x":0.95,"d":0.253},{"s":7,"x":0.955,"d":0.303},{"s":7,"x":0.96,"d":0.333},{"s":7,"x":0.965,"d":0.394},{"s":7,"x":0.97,"d":0.444},{"s":7,"x":0.975,"d":0.505},{"s":7,"x":0.98,"d":0.586},{"s":7,"x":0.985,"d":0.687},{"s":7,"x":0.99,"d":0.798},{"s":7,"x":0.994,"d":0.889},{"s":7,"x":0.997,"d":0.98},{"s":7,"x":0.999,"d":1.01},{"s":7,"x":0.9995,"d":0.25},{"s":7,"x":1.0,"d":0},
{"s":8,"x":0.73,"d":0},{"s":8,"x":0.76,"d":0.004},{"s":8,"x":0.79,"d":0.007},{"s":8,"x":0.82,"d":0.011},{"s":8,"x":0.84,"d":0.017},{"s":8,"x":0.86,"d":0.027},{"s":8,"x":0.875,"d":0.038},{"s":8,"x":0.89,"d":0.055},{"s":8,"x":0.9,"d":0.071},{"s":8,"x":0.91,"d":0.093},{"s":8,"x":0.92,"d":0.12},{"s":8,"x":0.93,"d":0.153},{"s":8,"x":0.94,"d":0.207},{"s":8,"x":0.95,"d":0.273},{"s":8,"x":0.955,"d":0.327},{"s":8,"x":0.96,"d":0.36},{"s":8,"x":0.965,"d":0.425},{"s":8,"x":0.97,"d":0.48},{"s":8,"x":0.975,"d":0.545},{"s":8,"x":0.98,"d":0.632},{"s":8,"x":0.985,"d":0.741},{"s":8,"x":0.99,"d":0.861},{"s":8,"x":0.994,"d":0.959},{"s":8,"x":0.997,"d":1.057},{"s":8,"x":0.999,"d":1.09},{"s":8,"x":0.9995,"d":0.27},{"s":8,"x":1.0,"d":0}
],
"b2":[
{"s":1,"x":0.868,"d":0},{"s":1,"x":0.8945,"d":0.002},{"s":1,"x":0.91,"d":0.011},{"s":1,"x":0.9255,"d":0.044},{"s":1,"x":0.941,"d":0.135},{"s":1,"x":0.9565,"d":0.325},{"s":1,"x":0.972,"d":0.607},{"s":1,"x":0.9875,"d":0.883},{"s":1,"x":1.003,"d":1.0},{"s":1,"x":1.0185,"d":0.883},{"s":1,"x":1.034,"d":0.607},{"s":1,"x":1.0495,"d":0.325},{"s":1,"x":1.065,"d":0.135},{"s":1,"x":1.0805,"d":0.044},{"s":1,"x":1.096,"d":0.011},{"s":1,"x":1.1115,"d":0.002},{"s":1,"x":1.13,"d":0},{"s":1,"x":2.175,"d":0},
{"s":2,"x":0.868,"d":0},{"s":2,"x":1.085,"d":0.002},{"s":2,"x":1.104,"d":0.01},{"s":2,"x":1.123,"d":0.041},{"s":2,"x":1.142,"d":0.128},{"s":2,"x":1.161,"d":0.307},{"s":2,"x":1.18,"d":0.573},{"s":2,"x":1.199,"d":0.833},{"s":2,"x":1.218,"d":0.944},{"s":2,"x":1.237,"d":0.833},{"s":2,"x":1.256,"d":0.573},{"s":2,"x":1.275,"d":0.307},{"s":2,"x":1.294,"d":0.128},{"s":2,"x":1.313,"d":0.041},{"s":2,"x":1.332,"d":0.01},{"s":2,"x":1.351,"d":0.002},{"s":2,"x":1.37,"d":0},{"s":2,"x":2.175,"d":0},
{"s":3,"x":0.868,"d":0},{"s":3,"x":1.025,"d":0.002},{"s":3,"x":1.046,"d":0.009},{"s":3,"x":1.067,"d":0.037},{"s":3,"x":1.088,"d":0.114},{"s":3,"x":1.109,"d":0.275},{"s":3,"x":1.13,"d":0.513},{"s":3,"x":1.151,"d":0.747},{"s":3,"x":1.172,"d":0.846},{"s":3,"x":1.193,"d":0.747},{"s":3,"x":1.214,"d":0.513},{"s":3,"x":1.235,"d":0.275},{"s":3,"x":1.256,"d":0.114},{"s":3,"x":1.277,"d":0.037},{"s":3,"x":1.298,"d":0.009},{"s":3,"x":1.319,"d":0.002},{"s":3,"x":1.34,"d":0},{"s":3,"x":2.175,"d":0},
{"s":4,"x":0.868,"d":0},{"s":4,"x":1.296,"d":0.002},{"s":4,"x":1.322,"d":0.01},{"s":4,"x":1.335,"d":0.016},{"s":4,"x":1.348,"d":0.035},{"s":4,"x":1.374,"d":0.11},{"s":4,"x":1.4,"d":0.26},{"s":4,"x":1.426,"d":0.45},{"s":4,"x":1.452,"d":0.645},{"s":4,"x":1.478,"d":0.726},{"s":4,"x":1.504,"d":0.641},{"s":4,"x":1.53,"d":0.44},{"s":4,"x":1.556,"d":0.236},{"s":4,"x":1.582,"d":0.098},{"s":4,"x":1.608,"d":0.032},{"s":4,"x":1.634,"d":0.008},{"s":4,"x":1.66,"d":0.002},{"s":4,"x":1.68,"d":0},{"s":4,"x":2.175,"d":0},
{"s":5,"x":0.868,"d":0},{"s":5,"x":0.993,"d":0.002},{"s":5,"x":1.008,"d":0.011},{"s":5,"x":1.023,"d":0.043},{"s":5,"x":1.038,"d":0.134},{"s":5,"x":1.053,"d":0.321},{"s":5,"x":1.068,"d":0.6},{"s":5,"x":1.083,"d":0.874},{"s":5,"x":1.098,"d":0.99},{"s":5,"x":1.113,"d":0.874},{"s":5,"x":1.128,"d":0.6},{"s":5,"x":1.143,"d":0.321},{"s":5,"x":1.158,"d":0.134},{"s":5,"x":1.173,"d":0.043},{"s":5,"x":1.188,"d":0.011},{"s":5,"x":1.203,"d":0.002},{"s":5,"x":1.22,"d":0},{"s":5,"x":2.175,"d":0},
{"s":6,"x":0.868,"d":0},{"s":6,"x":1.053,"d":0.002},{"s":6,"x":1.074,"d":0.01},{"s":6,"x":1.095,"d":0.041},{"s":6,"x":1.116,"d":0.126},{"s":6,"x":1.137,"d":0.303},{"s":6,"x":1.158,"d":0.566},{"s":6,"x":1.179,"d":0.823},{"s":6,"x":1.2,"d":0.933},{"s":6,"x":1.221,"d":0.823},{"s":6,"x":1.242,"d":0.566},{"s":6,"x":1.263,"d":0.303},{"s":6,"x":1.284,"d":0.126},{"s":6,"x":1.305,"d":0.041},{"s":6,"x":1.326,"d":0.01},{"s":6,"x":1.347,"d":0.002},{"s":6,"x":1.37,"d":0},{"s":6,"x":2.175,"d":0},
{"s":7,"x":0.868,"d":0},{"s":7,"x":1.552,"d":0.001},{"s":7,"x":1.58,"d":0.007},{"s":7,"x":1.608,"d":0.028},{"s":7,"x":1.636,"d":0.087},{"s":7,"x":1.664,"d":0.21},{"s":7,"x":1.692,"d":0.392},{"s":7,"x":1.72,"d":0.57},{"s":7,"x":1.748,"d":0.646},{"s":7,"x":1.776,"d":0.57},{"s":7,"x":1.804,"d":0.392},{"s":7,"x":1.832,"d":0.21},{"s":7,"x":1.86,"d":0.087},{"s":7,"x":1.888,"d":0.028},{"s":7,"x":1.916,"d":0.007},{"s":7,"x":1.944,"d":0.001},{"s":7,"x":1.97,"d":0},{"s":7,"x":2.175,"d":0},
{"s":8,"x":0.868,"d":0},{"s":8,"x":1.829,"d":0.001},{"s":8,"x":1.857,"d":0.006},{"s":8,"x":1.885,"d":0.026},{"s":8,"x":1.913,"d":0.079},{"s":8,"x":1.941,"d":0.189},{"s":8,"x":1.969,"d":0.352},{"s":8,"x":1.997,"d":0.513},{"s":8,"x":2.025,"d":0.581},{"s":8,"x":2.053,"d":0.513},{"s":8,"x":2.081,"d":0.352},{"s":8,"x":2.109,"d":0.189},{"s":8,"x":2.137,"d":0.079},{"s":8,"x":2.165,"d":0.026},{"s":8,"x":2.175,"d":0}
],
"b3":[
{"s":1,"x":0,"d":0},{"s":1,"x":0.0001,"d":0.85},{"s":1,"x":0.003,"d":0.92},{"s":1,"x":0.006,"d":1.0},{"s":1,"x":0.0105,"d":0.92},{"s":1,"x":0.0142,"d":0.88},{"s":1,"x":0.0165,"d":0.86},{"s":1,"x":0.0179,"d":0.75},{"s":1,"x":0.0216,"d":0.71},{"s":1,"x":0.0272,"d":0.58},{"s":1,"x":0.0328,"d":0.43},{"s":1,"x":0.0384,"d":0.3},{"s":1,"x":0.0459,"d":0.17},{"s":1,"x":0.0534,"d":0.075},{"s":1,"x":0.0627,"d":0.03},{"s":1,"x":0.0795,"d":0.008},{"s":1,"x":0.1,"d":0.002},{"s":1,"x":0.192,"d":0},
{"s":2,"x":0,"d":0},{"s":2,"x":0.0001,"d":0.43},{"s":2,"x":0.0019,"d":0.64},{"s":2,"x":0.0049,"d":0.66},{"s":2,"x":0.0086,"d":0.64},{"s":2,"x":0.0123,"d":0.714},{"s":2,"x":0.016,"d":0.733},{"s":2,"x":0.0217,"d":0.714},{"s":2,"x":0.0254,"d":0.64},{"s":2,"x":0.031,"d":0.51},{"s":2,"x":0.0366,"d":0.39},{"s":2,"x":0.0422,"d":0.28},{"s":2,"x":0.0496,"d":0.17},{"s":2,"x":0.0571,"d":0.094},{"s":2,"x":0.0646,"d":0.056},{"s":2,"x":0.0758,"d":0.019},{"s":2,"x":0.1019,"d":0.004},{"s":2,"x":0.192,"d":0},
{"s":3,"x":0,"d":0},{"s":3,"x":0.0001,"d":0.59},{"s":3,"x":0.003,"d":0.64},{"s":3,"x":0.0087,"d":0.62},{"s":3,"x":0.0144,"d":0.62},{"s":3,"x":0.0201,"d":0.64},{"s":3,"x":0.0239,"d":0.55},{"s":3,"x":0.0296,"d":0.49},{"s":3,"x":0.0353,"d":0.43},{"s":3,"x":0.0429,"d":0.36},{"s":3,"x":0.0505,"d":0.28},{"s":3,"x":0.058,"d":0.2},{"s":3,"x":0.0676,"d":0.12},{"s":3,"x":0.077,"d":0.066},{"s":3,"x":0.0885,"d":0.039},{"s":3,"x":0.1036,"d":0.016},{"s":3,"x":0.1264,"d":0.008},{"s":3,"x":0.192,"d":0},
{"s":4,"x":0,"d":0},{"s":4,"x":0.0001,"d":0.22},{"s":4,"x":0.003,"d":0.28},{"s":4,"x":0.0125,"d":0.376},{"s":4,"x":0.0239,"d":0.395},{"s":4,"x":0.0334,"d":0.415},{"s":4,"x":0.0429,"d":0.376},{"s":4,"x":0.0524,"d":0.357},{"s":4,"x":0.0619,"d":0.3},{"s":4,"x":0.0733,"d":0.24},{"s":4,"x":0.0847,"d":0.163},{"s":4,"x":0.0961,"d":0.105},{"s":4,"x":0.1074,"d":0.066},{"s":4,"x":0.1226,"d":0.035},{"s":4,"x":0.1416,"d":0.016},{"s":4,"x":0.172,"d":0.012},{"s":4,"x":0.1834,"d":0.027},{"s":4,"x":0.192,"d":0},
{"s":5,"x":0,"d":0},{"s":5,"x":0.0011,"d":1.25},{"s":5,"x":0.0049,"d":1.38},{"s":5,"x":0.008,"d":1.44},{"s":5,"x":0.011,"d":1.38},{"s":5,"x":0.014,"d":1.15},{"s":5,"x":0.017,"d":0.95},{"s":5,"x":0.02,"d":0.77},{"s":5,"x":0.024,"d":0.56},{"s":5,"x":0.0277,"d":0.38},{"s":5,"x":0.0315,"d":0.22},{"s":5,"x":0.0353,"d":0.12},{"s":5,"x":0.039,"d":0.058},{"s":5,"x":0.0448,"d":0.02},{"s":5,"x":0.058,"d":0.004},{"s":5,"x":0.192,"d":0},
{"s":6,"x":0,"d":0},{"s":6,"x":0.0011,"d":1.14},{"s":6,"x":0.003,"d":1.36},{"s":6,"x":0.0057,"d":1.3},{"s":6,"x":0.008,"d":1.34},{"s":6,"x":0.0106,"d":1.34},{"s":6,"x":0.0125,"d":1.28},{"s":6,"x":0.0163,"d":1.07},{"s":6,"x":0.0201,"d":0.87},{"s":6,"x":0.0239,"d":0.64},{"s":6,"x":0.0277,"d":0.45},{"s":6,"x":0.0315,"d":0.25},{"s":6,"x":0.0353,"d":0.135},{"s":6,"x":0.041,"d":0.058},{"s":6,"x":0.0467,"d":0.019},{"s":6,"x":0.058,"d":0.004},{"s":6,"x":0.192,"d":0},
{"s":7,"x":0,"d":0},{"s":7,"x":0.0004,"d":0.65},{"s":7,"x":0.003,"d":0.725},{"s":7,"x":0.0068,"d":0.725},{"s":7,"x":0.0106,"d":0.69},{"s":7,"x":0.0144,"d":0.71},{"s":7,"x":0.0182,"d":0.69},{"s":7,"x":0.022,"d":0.63},{"s":7,"x":0.0277,"d":0.55},{"s":7,"x":0.0334,"d":0.47},{"s":7,"x":0.0391,"d":0.376},{"s":7,"x":0.0467,"d":0.26},{"s":7,"x":0.0562,"d":0.163},{"s":7,"x":0.0657,"d":0.085},{"s":7,"x":0.0771,"d":0.035},{"s":7,"x":0.0923,"d":0.012},{"s":7,"x":0.115,"d":0.004},{"s":7,"x":0.192,"d":0},
{"s":8,"x":0,"d":0},{"s":8,"x":0.0004,"d":0.485},{"s":8,"x":0.003,"d":0.5},{"s":8,"x":0.0068,"d":0.574},{"s":8,"x":0.0125,"d":0.59},{"s":8,"x":0.0182,"d":0.6},{"s":8,"x":0.0239,"d":0.605},{"s":8,"x":0.0277,"d":0.574},{"s":8,"x":0.0334,"d":0.5},{"s":8,"x":0.0391,"d":0.427},{"s":8,"x":0.0467,"d":0.31},{"s":8,"x":0.0562,"d":0.194},{"s":8,"x":0.0657,"d":0.105},{"s":8,"x":0.0771,"d":0.047},{"s":8,"x":0.0923,"d":0.016},{"s":8,"x":0.115,"d":0.004},{"s":8,"x":0.192,"d":0}
],
"g3":[
{"s":1,"x":-0.37,"d":0},{"s":1,"x":-0.19,"d":0.03},{"s":1,"x":-0.09,"d":0.13},{"s":1,"x":-0.015,"d":0.3},{"s":1,"x":0.06,"d":0.49},{"s":1,"x":0.16,"d":0.65},{"s":1,"x":0.26,"d":0.74},{"s":1,"x":0.39,"d":0.83},{"s":1,"x":0.54,"d":0.9},{"s":1,"x":0.69,"d":0.94},{"s":1,"x":0.84,"d":0.98},{"s":1,"x":1.045,"d":0.99},{"s":1,"x":1.25,"d":0.99},{"s":1,"x":1.4,"d":0.98},{"s":1,"x":1.55,"d":0.99},{"s":1,"x":1.7,"d":1.0},{"s":1,"x":1.78,"d":0.97},{"s":1,"x":1.85,"d":0.83},{"s":1,"x":1.93,"d":0.63},{"s":1,"x":2.0,"d":0.38},{"s":1,"x":2.08,"d":0.16},{"s":1,"x":2.16,"d":0.04},{"s":1,"x":2.26,"d":0},
{"s":2,"x":-0.35,"d":0},{"s":2,"x":-0.19,"d":0.06},{"s":2,"x":-0.015,"d":0.28},{"s":2,"x":0.06,"d":0.56},{"s":2,"x":0.16,"d":0.76},{"s":2,"x":0.26,"d":0.84},{"s":2,"x":0.41,"d":0.91},{"s":2,"x":0.59,"d":0.92},{"s":2,"x":0.79,"d":0.94},{"s":2,"x":0.99,"d":0.95},{"s":2,"x":1.2,"d":0.96},{"s":2,"x":1.4,"d":0.97},{"s":2,"x":1.6,"d":0.98},{"s":2,"x":1.73,"d":0.98},{"s":2,"x":1.8,"d":0.92},{"s":2,"x":1.88,"d":0.78},{"s":2,"x":1.96,"d":0.56},{"s":2,"x":2.03,"d":0.28},{"s":2,"x":2.11,"d":0.06},{"s":2,"x":2.24,"d":0},
{"s":3,"x":-0.33,"d":0},{"s":3,"x":-0.2,"d":0.04},{"s":3,"x":-0.1,"d":0.17},{"s":3,"x":0,"d":0.375},{"s":3,"x":0.1,"d":0.58},{"s":3,"x":0.2,"d":0.72},{"s":3,"x":0.35,"d":0.82},{"s":3,"x":0.5,"d":0.88},{"s":3,"x":0.7,"d":0.93},{"s":3,"x":0.9,"d":0.94},{"s":3,"x":1.1,"d":0.93},{"s":3,"x":1.3,"d":0.97},{"s":3,"x":1.5,"d":1.02},{"s":3,"x":1.65,"d":1.03},{"s":3,"x":1.8,"d":0.98},{"s":3,"x":1.9,"d":0.79},{"s":3,"x":2.0,"d":0.5},{"s":3,"x":2.1,"d":0.21},{"s":3,"x":2.2,"d":0.05},{"s":3,"x":2.3,"d":0},
{"s":4,"x":-0.33,"d":0},{"s":4,"x":-0.2,"d":0.04},{"s":4,"x":-0.1,"d":0.17},{"s":4,"x":0,"d":0.35},{"s":4,"x":0.1,"d":0.54},{"s":4,"x":0.2,"d":0.67},{"s":4,"x":0.35,"d":0.78},{"s":4,"x":0.5,"d":0.85},{"s":4,"x":0.7,"d":0.92},{"s":4,"x":0.9,"d":0.95},{"s":4,"x":1.1,"d":0.975},{"s":4,"x":1.3,"d":1.0},{"s":4,"x":1.5,"d":1.025},{"s":4,"x":1.7,"d":1.03},{"s":4,"x":1.82,"d":0.96},{"s":4,"x":1.92,"d":0.75},{"s":4,"x":2.0,"d":0.5},{"s":4,"x":2.1,"d":0.21},{"s":4,"x":2.2,"d":0.05},{"s":4,"x":2.3,"d":0},
{"s":5,"x":-0.3,"d":0},{"s":5,"x":-0.2,"d":0.07},{"s":5,"x":-0.1,"d":0.33},{"s":5,"x":-0.02,"d":0.63},{"s":5,"x":0.05,"d":0.79},{"s":5,"x":0.15,"d":0.86},{"s":5,"x":0.3,"d":0.88},{"s":5,"x":0.5,"d":0.88},{"s":5,"x":0.7,"d":0.86},{"s":5,"x":0.9,"d":0.88},{"s":5,"x":1.05,"d":0.94},{"s":5,"x":1.2,"d":0.98},{"s":5,"x":1.3,"d":0.97},{"s":5,"x":1.45,"d":0.92},{"s":5,"x":1.6,"d":0.9},{"s":5,"x":1.75,"d":0.87},{"s":5,"x":1.85,"d":0.75},{"s":5,"x":1.95,"d":0.46},{"s":5,"x":2.05,"d":0.18},{"s":5,"x":2.15,"d":0.04},{"s":5,"x":2.25,"d":0},
{"s":6,"x":-0.3,"d":0},{"s":6,"x":-0.2,"d":0.07},{"s":6,"x":-0.1,"d":0.33},{"s":6,"x":0,"d":0.67},{"s":6,"x":0.1,"d":0.83},{"s":6,"x":0.2,"d":0.88},{"s":6,"x":0.3,"d":0.9},{"s":6,"x":0.45,"d":0.875},{"s":6,"x":0.65,"d":0.825},{"s":6,"x":0.8,"d":0.83},{"s":6,"x":1.0,"d":0.86},{"s":6,"x":1.15,"d":0.88},{"s":6,"x":1.3,"d":0.87},{"s":6,"x":1.45,"d":0.88},{"s":6,"x":1.6,"d":0.92},{"s":6,"x":1.75,"d":0.89},{"s":6,"x":1.85,"d":0.75},{"s":6,"x":1.95,"d":0.46},{"s":6,"x":2.05,"d":0.18},{"s":6,"x":2.15,"d":0.04},{"s":6,"x":2.25,"d":0},
{"s":7,"x":-0.35,"d":0},{"s":7,"x":-0.2,"d":0.07},{"s":7,"x":-0.1,"d":0.29},{"s":7,"x":0,"d":0.58},{"s":7,"x":0.1,"d":0.75},{"s":7,"x":0.2,"d":0.82},{"s":7,"x":0.35,"d":0.87},{"s":7,"x":0.5,"d":0.9},{"s":7,"x":0.7,"d":0.92},{"s":7,"x":0.9,"d":0.925},{"s":7,"x":1.1,"d":0.93},{"s":7,"x":1.25,"d":0.92},{"s":7,"x":1.4,"d":0.95},{"s":7,"x":1.55,"d":0.97},{"s":7,"x":1.7,"d":0.97},{"s":7,"x":1.82,"d":0.875},{"s":7,"x":1.92,"d":0.67},{"s":7,"x":2.02,"d":0.375},{"s":7,"x":2.12,"d":0.125},{"s":7,"x":2.22,"d":0.025},{"s":7,"x":2.3,"d":0},
{"s":8,"x":-0.35,"d":0},{"s":8,"x":-0.2,"d":0.07},{"s":8,"x":-0.1,"d":0.29},{"s":8,"x":0,"d":0.58},{"s":8,"x":0.1,"d":0.73},{"s":8,"x":0.25,"d":0.81},{"s":8,"x":0.4,"d":0.83},{"s":8,"x":0.55,"d":0.81},{"s":8,"x":0.75,"d":0.85},{"s":8,"x":0.9,"d":0.87},{"s":8,"x":1.05,"d":0.85},{"s":8,"x":1.2,"d":0.83},{"s":8,"x":1.35,"d":0.86},{"s":8,"x":1.5,"d":0.92},{"s":8,"x":1.65,"d":0.96},{"s":8,"x":1.75,"d":0.95},{"s":8,"x":1.85,"d":0.83},{"s":8,"x":1.95,"d":0.58},{"s":8,"x":2.05,"d":0.29},{"s":8,"x":2.15,"d":0.08},{"s":8,"x":2.25,"d":0}
]
}
}
